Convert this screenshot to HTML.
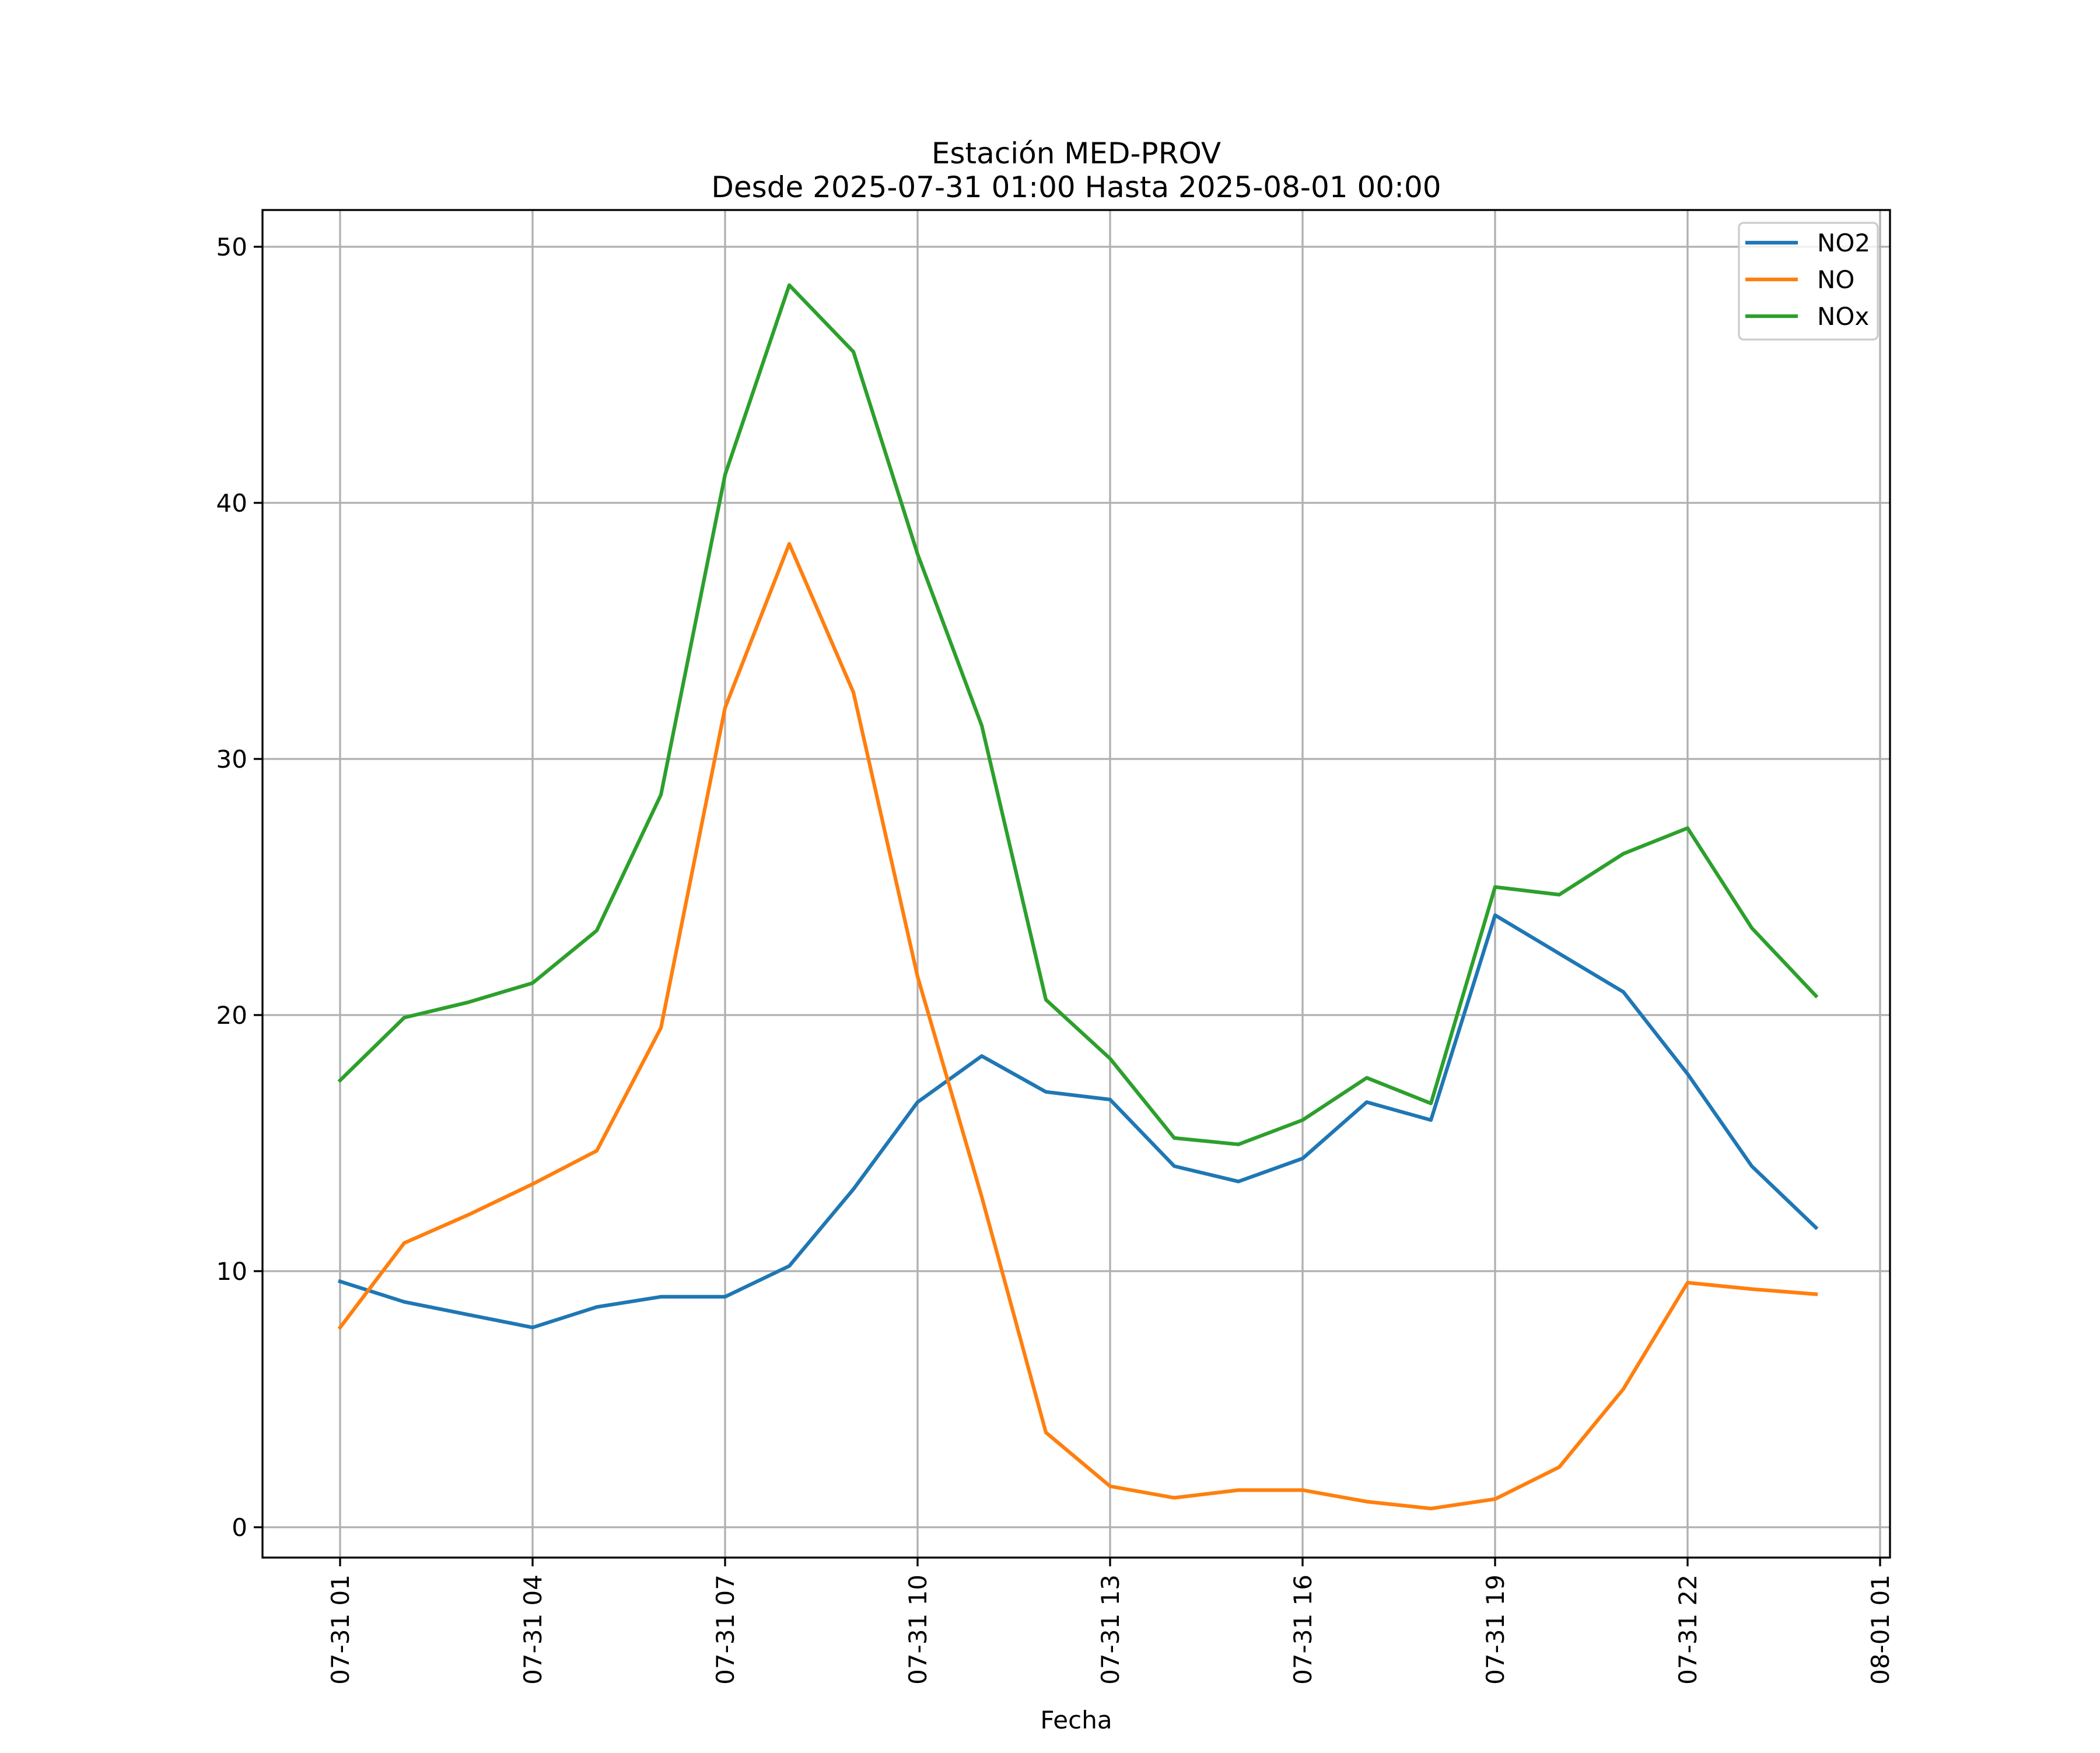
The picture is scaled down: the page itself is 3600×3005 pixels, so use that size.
<!DOCTYPE html>
<html><head><meta charset="utf-8"><style>
html,body{margin:0;padding:0;background:#fff}
svg text{font-family:"DejaVu Sans","Liberation Sans",sans-serif;fill:#000}
</style></head><body>
<svg id="chart" xmlns="http://www.w3.org/2000/svg" width="3600" height="3000" viewBox="0 0 3600 3000">
<rect width="3600" height="3000" fill="#fff"/>
<text x="1845" y="280" font-size="50" text-anchor="middle">Estación MED-PROV</text>
<text x="1845" y="338" font-size="50" text-anchor="middle">Desde 2025-07-31 01:00 Hasta 2025-08-01 00:00</text>
<g id="grid"></g>
<g id="series"></g>
<rect x="450" y="360" width="2790" height="2310" fill="none" stroke="#000" stroke-width="3.3"/>
<g id="ticks"></g>
<text x="1845" y="2963" font-size="42" text-anchor="middle">Fecha</text>
<g>
<rect x="2981" y="382" width="238" height="200" rx="8" fill="#fff" fill-opacity="0.8" stroke="#ccc" stroke-width="3.3"/>
<line x1="2992" y1="416" x2="3082" y2="416" stroke="#1f77b4" stroke-width="6.25"/>
<text x="3115" y="431" font-size="42">NO2</text>
<line x1="2992" y1="479" x2="3082" y2="479" stroke="#ff7f0e" stroke-width="6.25"/>
<text x="3115" y="494" font-size="42">NO</text>
<line x1="2992" y1="542" x2="3082" y2="542" stroke="#2ca02c" stroke-width="6.25"/>
<text x="3115" y="557" font-size="42">NOx</text>
</g>
</svg>
<script>
const hours = [1,2,3,4,5,6,7,8,9,10,11,12,13,14,15,16,17,18,19,20,21,22,23,24];
const no2 = [9.6,8.8,8.3,7.8,8.6,9.0,9.0,10.2,13.2,16.6,18.4,17.0,16.7,14.1,13.5,14.4,16.6,15.9,23.9,22.4,20.9,17.7,14.1,11.7];
const no = [7.8,11.1,12.2,13.4,14.7,19.5,32.0,38.4,32.6,21.5,12.9,3.7,1.6,1.15,1.45,1.45,1.0,0.73,1.1,2.35,5.4,9.55,9.3,9.1];
const nox = [17.45,19.9,20.5,21.25,23.3,28.6,41.1,48.5,45.9,38.0,31.3,20.6,18.3,15.2,14.95,15.9,17.55,16.55,25.0,24.7,26.3,27.3,23.4,20.75];
const yTicks = [0,10,20,30,40,50];
const xTickHours = [1,4,7,10,13,16,19,22,25];
const xTickLabels = ["07-31 01","07-31 04","07-31 07","07-31 10","07-31 13","07-31 16","07-31 19","07-31 22","08-01 01"];
const NS="http://www.w3.org/2000/svg";
function xs(h){return 583+(h-1)*110;}
function ys(v){return 2618-(v)*43.9;}
function mk(tag,attrs,parent){const e=document.createElementNS(NS,tag);for(const k in attrs)e.setAttribute(k,attrs[k]);parent.appendChild(e);return e;}
const grid=document.getElementById('grid'),ticks=document.getElementById('ticks'),series=document.getElementById('series');
yTicks.forEach(v=>{
  const g=mk('line',{x1:450,x2:3240,y1:ys(v),y2:ys(v),stroke:'#b0b0b0','stroke-width':3.3},grid);
  
  
  const t=mk('line',{x1:435,x2:450,y1:ys(v),y2:ys(v),stroke:'#000','stroke-width':3.3},ticks);
  
  
  const l=mk('text',{x:424,y:ys(v)+15,'font-size':42,'text-anchor':'end'},ticks);
  
  
  l.textContent=v;
});
xTickHours.forEach((h,i)=>{
  const x=xs(h);
  const g=mk('line',{x1:x,x2:x,y1:360,y2:2670,stroke:'#b0b0b0','stroke-width':3.3},grid);
  
  
  const t=mk('line',{x1:x,x2:x,y1:2670,y2:2685,stroke:'#000','stroke-width':3.3},ticks);
  
  
  const l=mk('text',{x:0,y:0,'font-size':42,'text-anchor':'end',transform:`translate(${x+15},2699) rotate(-90)`},ticks);
  
  
  l.textContent=xTickLabels[i];
});
[[no2,'#1f77b4','line-no2'],[no,'#ff7f0e','line-no'],[nox,'#2ca02c','line-nox']].forEach(([d,c,n])=>{
  const p=mk('polyline',{points:d.map((v,i)=>xs(hours[i])+','+ys(v)).join(' '),fill:'none',stroke:c,'stroke-width':6.25,'stroke-linejoin':'round','stroke-linecap':'square'},series);
  
  
});
</script>
</body></html>
